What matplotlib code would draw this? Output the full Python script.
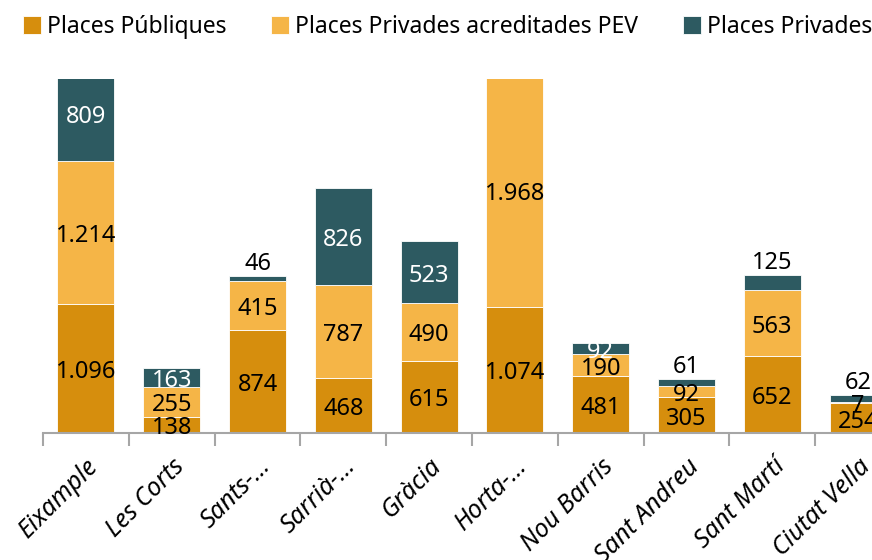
import matplotlib
matplotlib.use("Agg")
import matplotlib.pyplot as plt
import numpy as np

districts = ["Eixample", "Les Corts", "Sants-\u2026", "Sarri\u00e0-\u2026", "Gr\u00e0cia",
             "Horta-\u2026", "Nou Barris", "Sant Andreu", "Sant Mart\u00ed", "Ciutat Vella"]
publiques = [1096, 138, 874, 468, 615, 1074, 481, 305, 652, 254]
privadesPev = [1214, 255, 415, 787, 490, 1968, 190, 92, 563, 7]
privades = [809, 163, 46, 826, 523, 0, 92, 61, 125, 62]
# True -> label of the dark segment sits above the bar
privadesAbove = [False, False, True, False, False, False, False, True, True, True]

seriesNames = ["Places P\u00fabliques", "Places Privades acreditades PEV", "Places Privades"]
colors = ["#D68E0D", "#F5B547", "#2D5A61"]

plt.rcParams['font.family'] = ['Noto Sans', 'DejaVu Sans']

def fmt(v):
    # catalan thousands separator
    return "{:,}".format(v).replace(",", ".")

fig = plt.figure(figsize=(8.72, 5.6), dpi=100)
ax = fig.add_axes([43 / 872, 127 / 560, 858 / 872, 354 / 560])

x = np.arange(len(districts))
width = 0.665
pub = np.array(publiques)
pev = np.array(privadesPev)
prv = np.array(privades)

b1 = ax.bar(x, pub, width, color=colors[0], edgecolor="white", linewidth=0.6, label=seriesNames[0])
b2 = ax.bar(x, pev, width, bottom=pub, color=colors[1], edgecolor="white", linewidth=0.6, label=seriesNames[1])
b3 = ax.bar(x, prv, width, bottom=pub + pev, color=colors[2], edgecolor="white", linewidth=0.6, label=seriesNames[2])

labelSize = 17
shift = (0, -2.5)  # labels sit a little low, like in excel
for i in range(len(districts)):
    ax.annotate(fmt(pub[i]), (x[i], pub[i] / 2), xytext=shift, textcoords="offset points",
                ha="center", va="center", fontsize=labelSize, color="black")
    ax.annotate(fmt(pev[i]), (x[i], pub[i] + pev[i] / 2), xytext=shift, textcoords="offset points",
                ha="center", va="center", fontsize=labelSize, color="black")
    if prv[i] == 0:
        continue
    top = pub[i] + pev[i] + prv[i]
    if privadesAbove[i]:
        ax.annotate(fmt(prv[i]), (x[i], top), xytext=(0, 0), textcoords="offset points",
                    ha="center", va="bottom", fontsize=labelSize, color="black")
    else:
        ax.annotate(fmt(prv[i]), (x[i], pub[i] + pev[i] + prv[i] / 2), xytext=shift,
                    textcoords="offset points", ha="center", va="center",
                    fontsize=labelSize, color="white")

ax.set_xlim(-0.5, len(districts) - 0.5)
ax.set_ylim(0, 3008)

for side in ["left", "right", "top"]:
    ax.spines[side].set_visible(False)
ax.spines["bottom"].set_color("#A6A6A6")
ax.spines["bottom"].set_linewidth(1.5)
ax.set_yticks([])

ax.set_xticks(x)
ax.set_xticklabels(districts, rotation=45, ha="right", rotation_mode="anchor",
                   fontsize=18, fontstyle="italic")
ax.tick_params(axis="x", which="major", length=0, pad=15)
ax.set_xticks(np.arange(len(districts) + 1) - 0.5, minor=True)
ax.tick_params(axis="x", which="minor", length=9, width=1.5, color="#A6A6A6")

fig.legend(handles=[b1, b2, b3], labels=seriesNames, loc="upper left",
           bbox_to_anchor=(8 / 872, 1.0), ncol=3, frameon=False, fontsize=16.5,
           handlelength=0.8, handleheight=0.8, handletextpad=0.25, columnspacing=1.95,
           borderaxespad=0.25)

fig.savefig("out.png", dpi=100)
